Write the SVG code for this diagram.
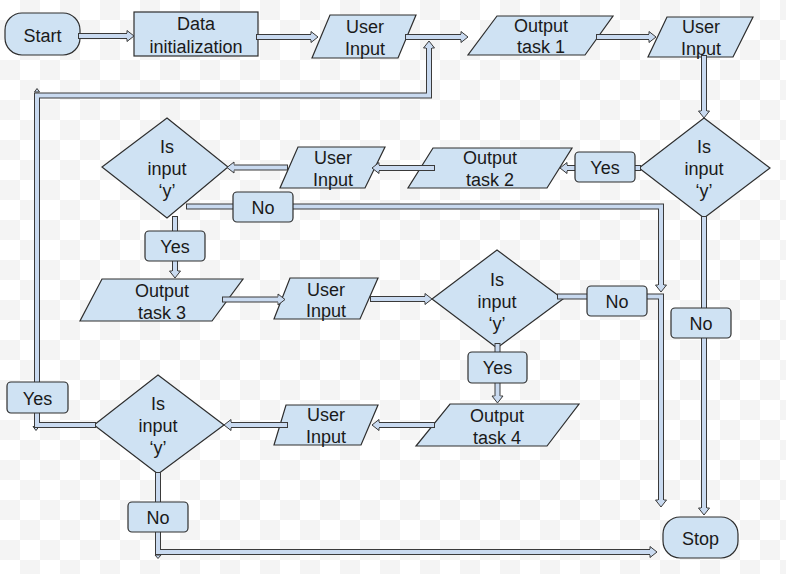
<svg xmlns="http://www.w3.org/2000/svg" width="786" height="574" viewBox="0 0 786 574">
<defs>
<pattern id="bg" width="40" height="40" patternUnits="userSpaceOnUse"><rect width="40" height="40" fill="#ffffff"/><rect x="20" y="0" width="20" height="20" fill="#f4f4f4"/><rect x="0" y="20" width="20" height="20" fill="#f4f4f4"/></pattern>
<marker id="ah" markerUnits="userSpaceOnUse" markerWidth="10" markerHeight="14" refX="0" refY="6" orient="auto" overflow="visible"><path d="M0,3 L0,0.5 L7,6 L0,11.5 L0,9" fill="#c9daf0" stroke="#3a3a3a" stroke-width="1" stroke-linejoin="miter"/></marker>
<style>
.sh{fill:#cfe2f3;stroke:#2e2e2e;stroke-width:1.2}
.lb{fill:#cfe2f3;stroke:#2e2e2e;stroke-width:1.2}
.t{font-family:"Liberation Sans",Arial,sans-serif;font-size:18px;fill:#1a1a1a;text-anchor:middle}
.co{fill:none;stroke:#3a3a3a;stroke-width:6;stroke-linecap:square;stroke-linejoin:miter}
.ci{fill:none;stroke:#c9daf0;stroke-width:4;stroke-linecap:square;stroke-linejoin:miter;marker-end:url(#ah)}
.tip{fill:#c9daf0;stroke:#3a3a3a;stroke-width:1}
</style>
</defs>
<rect width="786" height="574" fill="url(#bg)"/>

<g id="start"><rect class="sh" x="5" y="13" width="75" height="42" rx="17"/><text class="t" x="42.5" y="42">Start</text></g>
<g id="data-init"><rect class="sh" x="134" y="12" width="124" height="44"/><text class="t" x="196" y="30">Data</text><text class="t" x="196" y="53">initialization</text></g>
<g id="user-input-1"><polygon class="sh" points="330,15 416,15 398,58 312,58"/><text class="t" x="365" y="33">User</text><text class="t" x="365" y="55">Input</text></g>
<g id="output-task-1"><polygon class="sh" points="497,16 613,16 585,55 468,55"/><text class="t" x="541" y="32">Output</text><text class="t" x="541" y="53">task 1</text></g>
<g id="user-input-2"><polygon class="sh" points="667,17 753,17 733,57 648,57"/><text class="t" x="701" y="33">User</text><text class="t" x="701" y="55">Input</text></g>
<g id="decision-1"><polygon class="sh" points="704,118 770,168 704,218 639,168"/><text class="t" x="704" y="153">Is</text><text class="t" x="704" y="175">input</text><text class="t" x="704" y="197">‘y’</text></g>
<g id="output-task-2"><polygon class="sh" points="433,148 572,148 547,188 408,188"/><text class="t" x="490" y="164">Output</text><text class="t" x="490" y="186">task 2</text></g>
<g id="user-input-3"><polygon class="sh" points="298,147 385,147 365,188 280,188"/><text class="t" x="333" y="164">User</text><text class="t" x="333" y="186">Input</text></g>
<g id="decision-2"><polygon class="sh" points="167,118 228,167 167,218 102,167"/><text class="t" x="167" y="153">Is</text><text class="t" x="167" y="175">input</text><text class="t" x="167" y="197">‘y’</text></g>
<g id="output-task-3"><polygon class="sh" points="102,279 243,279 212,321 80,321"/><text class="t" x="162" y="297">Output</text><text class="t" x="162" y="319">task 3</text></g>
<g id="user-input-4"><polygon class="sh" points="290,278 378,278 360,319 274,319"/><text class="t" x="326" y="296">User</text><text class="t" x="326" y="317">Input</text></g>
<g id="decision-3"><polygon class="sh" points="497,250 563,299 497,348 432,299"/><text class="t" x="497" y="286">Is</text><text class="t" x="497" y="308">input</text><text class="t" x="497" y="330">‘y’</text></g>
<g id="output-task-4"><polygon class="sh" points="450,404 579,404 547,446 416,446"/><text class="t" x="497" y="422">Output</text><text class="t" x="497" y="444">task 4</text></g>
<g id="user-input-5"><polygon class="sh" points="286,405 378,405 361,445 274,445"/><text class="t" x="326" y="421">User</text><text class="t" x="326" y="443">Input</text></g>
<g id="decision-4"><polygon class="sh" points="158,375 224,425 158,474 94,425"/><text class="t" x="158" y="410">Is</text><text class="t" x="158" y="432">input</text><text class="t" x="158" y="454">‘y’</text></g>
<g id="stop"><rect class="sh" x="663" y="517" width="75" height="41" rx="17"/><text class="t" x="700.5" y="545">Stop</text></g>

<g id="connectors">
<path class="co" d="M81,36 H127"/><path class="ci" d="M81,36 H127"/>
<path class="co" d="M259,37 H311"/><path class="ci" d="M259,37 H311"/>
<path class="co" d="M408,37 H461"/><path class="ci" d="M408,37 H461"/>
<path class="co" d="M599,37 H649"/><path class="ci" d="M599,37 H649"/>
<path class="co" d="M704,58 V111"/><path class="ci" d="M704,58 V111"/>
<path class="co" d="M638,168 H567"/><path class="ci" d="M638,168 H567"/>
<path class="co" d="M432,168 H379"/><path class="ci" d="M432,168 H379"/>
<path class="co" d="M285,167.5 H234"/><path class="ci" d="M285,167.5 H234"/>
<path class="co" d="M189,206.5 H661 V285"/><path class="ci" d="M189,206.5 H661 V285"/>
<path class="co" d="M175,219 V271"/><path class="ci" d="M175,219 V271"/>
<path class="co" d="M225,299.5 H278"/><path class="ci" d="M225,299.5 H278"/>
<path class="co" d="M373,299 H425"/><path class="ci" d="M373,299 H425"/>
<path class="co" d="M560,296.5 H661 V500"/><path class="ci" d="M560,296.5 H661 V500"/>
<path class="co" d="M497.5,346 V396"/><path class="ci" d="M497.5,346 V396"/>
<path class="co" d="M432,425 H379"/><path class="ci" d="M432,425 H379"/>
<path class="co" d="M285,425 H231"/><path class="ci" d="M285,425 H231"/>
<polygon class="tip" points="34.5,92 37,88.5 39.5,92"/>
<polygon class="tip" points="33,426.5 36,430.5 39,426.5"/>
<polygon class="tip" points="155,555 158,558.5 161,555"/>
<path class="co" d="M93,425 H37 V95.5 H429 V48"/><path class="ci" d="M93,425 H37 V95.5 H429 V48"/>
<path class="co" d="M704,219 V508"/><path class="ci" d="M704,219 V508"/>
<path class="co" d="M158,475 V552 H650"/><path class="ci" d="M158,475 V552 H650"/>
</g>

<g id="label-yes-1"><rect class="lb" x="575" y="152" width="60" height="30" rx="4"/><text class="t" x="605" y="174">Yes</text></g>
<g id="label-no-1"><rect class="lb" x="671" y="308" width="60" height="30" rx="4"/><text class="t" x="701" y="330">No</text></g>
<g id="label-no-2"><rect class="lb" x="233" y="192" width="60" height="30" rx="4"/><text class="t" x="263" y="214">No</text></g>
<g id="label-yes-2"><rect class="lb" x="145" y="231" width="60" height="30" rx="4"/><text class="t" x="175" y="253">Yes</text></g>
<g id="label-no-3"><rect class="lb" x="587" y="286" width="60" height="30" rx="4"/><text class="t" x="617" y="308">No</text></g>
<g id="label-yes-3"><rect class="lb" x="468" y="352" width="59" height="31" rx="4"/><text class="t" x="497.5" y="374">Yes</text></g>
<g id="label-yes-4"><rect class="lb" x="7" y="382" width="61" height="31" rx="4"/><text class="t" x="37.5" y="405">Yes</text></g>
<g id="label-no-4"><rect class="lb" x="128" y="502" width="60" height="30" rx="4"/><text class="t" x="158" y="524">No</text></g>
</svg>
